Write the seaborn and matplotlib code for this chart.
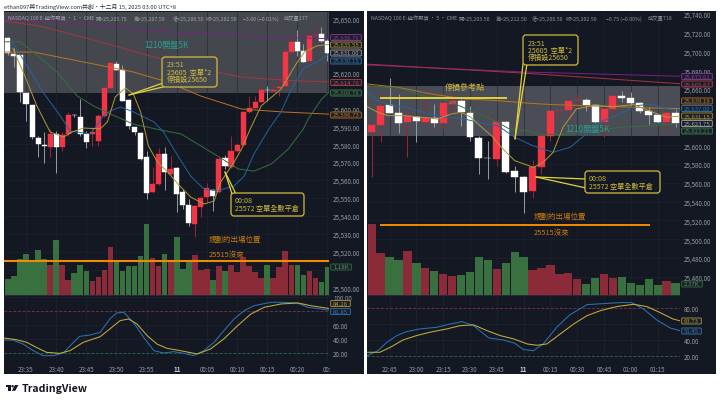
import matplotlib
matplotlib.use("Agg")
import matplotlib.pyplot as plt
from matplotlib.patches import FancyBboxPatch, Rectangle, Polygon, Circle
import numpy as np
import pandas as pd
import seaborn as sns

sns.set_theme(style="dark")
plt.rcParams['font.family'] = ['Noto Sans CJK TC', 'DejaVu Sans']
plt.rcParams['axes.unicode_minus'] = False

# ---------- LEFT CHART (1 min) ----------
L_OPEN = [25639,25630.2,25629.7,25608.5,25601.8,25583.4,25579.3,25578.4,25585.7,25578.4,25585.7,25596.3,25595.1,25585.7,25585.7,25581.8,25595.7,25611.3,25624.7,25621.3,25604.6,25589.6,25586.2,25572.9,25553.4,25557.8,25574.5,25563.4,25566.7,25553.4,25546.2,25535.5,25545,25550.5,25554.5,25553.4,25572.3,25567.3,25576.2,25579.5,25598,25600.2,25603.5,25610.4,25609.6,25611,25612.4,25631.3,25637,25632,25626.3,25640.6,25641.4,25637.5]
L_CLOSE = [25631,25629.1,25609,25602.4,25584,25580,25579,25585.7,25578.4,25585.1,25596.3,25596,25585.7,25581.2,25586.8,25595.7,25611.3,25625.2,25621.3,25604,25590,25586.8,25572,25552.8,25557.8,25574.5,25564.5,25566.2,25552.2,25546.2,25536,25545.6,25550,25555.6,25551.2,25571.7,25567.8,25576.2,25579.5,25598,25600.2,25603.5,25610.2,25610,25610,25611.8,25631.3,25637,25632,25625.8,25640.3,25641,25637.5,25631]
L_HIGH = [25639.7,25633.6,25629.7,25608.5,25601.8,25584.5,25586.8,25588.5,25587.3,25586.8,25598,25597,25605,25587.3,25589.6,25596.8,25612,25626.3,25626.3,25624,25605,25589.6,25587,25576.2,25567.3,25578,25578.4,25573.4,25567.5,25555,25549.5,25546,25551,25558.4,25555,25573,25574,25584.5,25580.6,25598.5,25606.8,25606.8,25614.6,25612.4,25613.5,25618,25634,25639.7,25643.6,25635.8,25642.5,25645.3,25645.3,25638.6]
L_LOW = [25629.7,25623,25603.5,25593,25583,25573,25569.5,25573,25564,25576,25584.5,25595,25584.5,25578,25579,25579,25595,25610.7,25621.3,25604,25588.5,25585,25571,25549.5,25553,25557.5,25554.5,25563,25542.3,25544,25534.4,25528.3,25539.5,25548,25542.8,25553,25566.2,25567,25575.5,25579,25597.5,25600,25603.5,25604,25609,25607,25612,25631,25629,25625.5,25626,25640,25637,25626.3]
L_VOL = [0.68,0.80,1.52,1.73,1.48,1.90,1.52,1.27,2.32,1.27,0.63,0.93,1.27,1.01,0.59,0.76,1.06,2.03,1.43,1.01,1.22,1.22,1.65,3.00,1.56,1.22,1.73,1.43,2.45,1.10,1.48,1.69,1.06,1.10,0.63,1.22,1.01,1.27,0.97,1.60,1.22,0.97,0.72,1.27,0.72,1.18,1.86,1.27,1.27,0.84,1.01,0.72,0.55,1.18]
L_TIME_POS = [3,8,13,18,23,28,33,38,43,48,53]
L_TIME_TXT = ['23:35','23:40','23:45','23:50','23:55','11','00:05','00:10','00:15','00:20','00:']
L_PRICE_TICKS = [25650,25620,25600,25590,25580,25570,25560,25550,25540,25530,25520,25500]
L_GRID_PRICES = [25650,25640,25630,25620,25610,25600,25590,25580,25570,25560,25550,25540,25530,25520,25510,25500]
L_STOCH_TICKS = [20,40,60,100]

L_YEL_X = [0.8,2.8,4.8,7,9.2,10.7,12.5,15.3,16.5,17.8,19.5,20.8,22,23.3,24.8,26.5,28.2,30.3,32.5,34.2,35.3,37.5,38.7,40.2,42,43.3,45.3,46.5,47.8,49.2,51.2,53.2]
L_YEL_Y = [25633.6,25618,25601.3,25586.8,25584,25586.8,25589,25588.5,25592.4,25606.3,25611.3,25608,25598,25579,25570,25564.5,25557.8,25550.6,25546.7,25548.3,25559,25570,25577,25588.5,25601.3,25605,25610.7,25617.4,25624.7,25631.3,25634.7,25635.55]
L_BLU_X = [0.7,2.8,5.8,8.7,10.3,13.7,15.8,17,18.7,20.8,24.2,25.8,28.2,30.3,32.5,34.8,37.5,39.2,40.8,43.3,45.3,47,49,51.5,53.2]
L_BLU_Y = [25637,25625.8,25609,25595.7,25587.3,25585.7,25595.7,25598.5,25600.7,25598,25592.4,25586.8,25573.4,25562.3,25555,25554,25556.7,25562.3,25574.5,25588.5,25598,25610.7,25622,25626.3,25630.15]
L_GRN_X = [-0.6,2,4.2,8.2,11.5,14.2,17,20.8,25.3,28.7,32,35.3,38.2,40.8,43.7,46.5,49,49.8,52,53.2]
L_GRN_Y = [25637,25637,25631.3,25620,25606.8,25601.3,25596.8,25591.2,25587.9,25585.7,25579,25572.3,25566.2,25565,25569,25577.3,25588.5,25594,25605,25608.78]
L_RED_X = [-0.6,5.3,15.3,23.7,32,38.7,43,48,53.2]
L_RED_Y = [25648.6,25645.8,25637,25629,25622,25617.4,25616.3,25615.2,25614.7]
L_PUR_X = [-0.6,8.2,18.2,26.5,43,53.2]
L_PUR_Y = [25649.7,25648,25645.3,25642.5,25639.7,25638.76]
L_ORA_X = [-0.6,4.2,12.5,20.8,26.5,32,38.7,45.3,53.2]
L_ORA_Y = [25631.3,25631.3,25625.8,25620.2,25614.6,25606.8,25599.6,25598,25596.73]

L_KB_X = [-0.6,0.8,2.5,4.2,5.8,7.5,9.2,10.6,11.9,13.6,15.3,16.9,18,19.2,20.8,22.5,24.2,25.8,27.5,29.2,30.8,32.5,34.2,35.8,37.5,39.2,40.8,43.6,45.8,48,49.7,51.9,53.2]
L_KB_Y = [38.7,38.7,33,23.4,16.2,16.2,20,33,44,45.9,49.8,69,77.6,78.6,64.2,42.6,23.4,20,21.9,19.5,16.2,23.4,35.4,52,69,81,88,93,93,92,85.8,83.4,81.85]
L_KY_X = [-0.6,1.4,3.1,4.7,6.4,8.6,10.3,12.5,15.3,16.9,18.6,20,21.4,23.1,24.7,26.4,28.6,31.4,33.6,35.8,38.1,40.3,42.5,45.3,48.1,50.3,53.2]
L_KY_Y = [41.6,39.2,35.4,28.2,21,19.5,23.4,35.4,43.5,54.6,66.6,69,61.8,45,33,26.7,23.4,18.6,25.8,40.2,59.4,76.2,85.8,90.6,92,88,84.26]

# ---------- RIGHT CHART (5 min) ----------
R_OPEN = [25614.6,25622,25642.7,25634.8,25624.5,25630.2,25625.2,25628.8,25624.2,25644.4,25646.9,25634.8,25607.8,25586.4,25585.5,25624.5,25572.6,25566.6,25551,25576.6,25610.3,25637.4,25637.3,25647.8,25648.3,25643.4,25624.5,25638.8,25652.3,25650.1,25645.1,25636.3,25632.7,25625.2,25634.1]
R_CLOSE = [25621.3,25642,25634.5,25624.2,25630.9,25625.6,25629.5,25624.2,25644.8,25646.9,25635.6,25609.3,25586.2,25586.1,25625.2,25572,25566.3,25550,25576.6,25610.3,25637,25637.8,25646.9,25648.3,25643.4,25624.9,25638.8,25652.3,25650.1,25645.1,25637,25632.7,25624.9,25634.5,25623.75]
R_HIGH = [25624.5,25656.5,25671.8,25654.7,25638.8,25631.6,25651.2,25644,25654.7,25656.5,25649.4,25641.6,25610.3,25605,25627,25626,25577.6,25567,25584.4,25612,25638.8,25641.2,25650.5,25654.7,25650.1,25644,25640,25653,25657.6,25656.5,25645.9,25640.5,25633.4,25635.2,25639.8]
R_LOW = [25566.6,25603.2,25634,25612.8,25587.2,25603.2,25621,25620,25617.4,25629.9,25621,25604.3,25569.5,25564.1,25577.6,25571,25550,25527.9,25543.5,25569.5,25604.3,25625.6,25625.6,25642.3,25637,25623.5,25609.3,25632.4,25645.9,25641.6,25634.1,25622.8,25623.5,25615.7,25620]
R_VOL = [14.0,8.3,7.5,6.9,8.7,6.3,5.3,4.7,4.1,3.75,3.95,4.5,7.5,6.9,5.1,6.3,8.5,7.5,4.9,5.3,5.9,4.1,4.3,3.2,2.2,3.4,4.1,3.4,3.6,2.4,2.0,3.2,2.0,2.8,2.37]
R_TIME_POS = [2,5,8,11,14,17,20,23,26,29,32]
R_TIME_TXT = ['22:45','23:00','23:15','23:30','23:45','11','00:15','00:30','00:45','01:00','01:15']
R_PRICE_TICKS = [25740,25720,25700,25680,25660,25600,25580,25560,25540,25520,25500,25480,25460]
R_GRID_PRICES = [25740,25720,25700,25680,25660,25640,25620,25600,25580,25560,25540,25520,25500,25480,25460]
R_STOCH_TICKS = [20,40,80]

R_PUR_X = [-0.5,17,34.5]
R_PUR_Y = [25685.6,25678.2,25673.61]
R_RED_X = [-0.5,17,34.5]
R_RED_Y = [25686.5,25677,25665.67]
R_ORA_X = [-0.5,2.95,6.7,10.4,14.1,17.7,20.3,24,27.8,31.5,34.5]
R_ORA_Y = [25665.4,25661.8,25654.7,25649.4,25647.6,25644.8,25643.4,25642.3,25641.2,25639.8,25639.18]
R_GRN_X = [-0.5,2.95,5.7,8.5,11.5,13.4,15.3,17.7,18.8,21.4,24,27.8,31.5,34.5]
R_GRN_Y = [25663.6,25661.1,25653,25647.6,25635.2,25628.1,25618,25615,25612,25611.4,25613.9,25619.2,25621,25623.21]
R_BLU_X = [-0.5,0.7,2.2,4,6.3,8.2,10.4,12.3,14.1,16,18,20.3,22.2,24,25.9,27.8,29.6,31.5,33,34.5]
R_BLU_Y = [25656.5,25647.6,25642.3,25640.5,25633.4,25629.9,25628.1,25623.5,25621,25608.6,25599.7,25592.6,25597.9,25612,25626.3,25633.4,25642.3,25644,25638.8,25637]
R_YEL_X = [-0.5,0.7,1.8,3.7,5.6,7.4,8.9,10,11.1,12.1,13.4,14.5,16,18.1,19.2,20.3,21.4,22.9,24.8,27,29.3,31.5,33,34.5]
R_YEL_Y = [25641.2,25635.2,25631.6,25631.6,25629.9,25628.1,25633.4,25635.2,25629.9,25621,25610.3,25597.9,25583.7,25576.6,25581.9,25592.6,25619.2,25638.8,25642.3,25641.2,25643.4,25635.2,25629.9,25631.15]

R_KB_X = [-0.5,0.6,1.7,2.8,3.9,5.4,7.3,8.8,10.1,11.4,13.1,14.7,16,17,18.1,19.2,20.7,22.2,24.1,25.9,27.8,29.1,30.4,31.9,33.4,34.7]
R_KB_Y = [20.8,26.3,37.5,45.8,50.8,54.2,56.3,60.4,63.3,58.3,42.9,40.4,36.3,28.3,27.1,35.4,56.3,72.1,84.6,85.8,87.1,87.1,79.2,65.4,55.4,51.45]
R_KY_X = [-0.5,0.9,2.1,3.5,5,6.5,8.4,9.9,11.4,12.9,14.4,15.9,17.4,18.5,19.6,21.1,22.6,24.1,25.6,27.4,29.3,30.8,32.2,33.7,34.7]
R_KY_Y = [25,25,31.3,40.4,45.8,50,54.2,58.3,59.2,52.1,45.8,41.7,35.4,33.8,35.4,47.9,60.4,70.8,77.1,82.1,85,82.1,75,66.7,63.73]

STOCH_GRID = [20,40,60,80,100]
EXIT_LEVEL = 25515
STOP_LEVEL = 25650

# ---------- colours ----------
BG = '#141823'; GRID = '#1f2431'; BAND_L = '#45474f'; BAND_R = '#4b4d56'
UP = '#f23645'; DOWN = '#ffffff'
UPW = '#9c2434'; DOWNW = '#9a9ca3'
VUP = '#8b2b3a'; VDN = '#39703f'
C_YEL = '#b09a38'; C_BLU = '#24649c'; C_GRN = '#35703f'; C_RED = '#a8343f'
C_PUR = '#7a2185'; C_ORA = '#b9751f'
TICK = '#959aa4'; GOLD = '#cfbb3c'; TAIL = '#e2d23e'
EXIT = '#f08c00'; EXIT_TXT = '#c97c12'; TEAL = '#2a9d8c'

W, H = 720, 402
fig = plt.figure(figsize=(W/100, H/100), dpi=100, facecolor='white')

def rect(x0, y0, x1, y1):
    return [x0/W, 1-y1/H, (x1-x0)/W, (y1-y0)/H]

axbg = fig.add_axes([0, 0, 1, 1], zorder=0)
axbg.set_xlim(0, W); axbg.set_ylim(H, 0); axbg.axis('off')
for x0, x1 in [(4, 364), (367, 716)]:
    axbg.add_patch(Rectangle((x0, 12), x1-x0, 363, fc=BG, ec='none'))

def line(ax, xs, ys, color, lw=0.7, z=4):
    sns.lineplot(x=xs, y=ys, ax=ax, color=color, linewidth=lw, estimator=None,
                 errorbar=None, sort=False, zorder=z)

def style(ax):
    ax.set_facecolor('none')
    for s in ax.spines.values():
        s.set_visible(False)
    ax.set_xlabel(''); ax.set_ylabel('')

def chart(px, xlim, ylim, opens, highs, lows, closes, vol, vmax, bw,
          ticks, grid_p, tpos, ttxt, band_lo, band_hi, band_c, mas, kb, ky, klim, kticks):
    x0, x1 = px
    idx = np.arange(len(opens))
    o, h, l, c = map(np.array, (opens, highs, lows, closes))
    rising = c > o

    axb = fig.add_axes(rect(x0, 13, x1, 296), zorder=1)
    style(axb)
    axb.set_xlim(*xlim); axb.set_ylim(*ylim)
    axb.axhspan(band_lo, band_hi, fc=band_c, ec='none', zorder=0)
    axb.vlines(tpos, *ylim, color=GRID, lw=0.5, zorder=0.5, alpha=.8)
    axb.hlines([t for t in grid_p if t < band_lo], *xlim, color=GRID, lw=0.5, zorder=0.5, alpha=.8)
    axb.set_xticks([]); axb.set_yticks([])

    axv = fig.add_axes(rect(x0, 13, x1, 296), zorder=2)
    dfv = pd.DataFrame({'i': idx, 'v': vol, 'k': np.where(rising, 'up', 'dn')})
    sns.barplot(data=dfv, x='i', y='v', hue='k', palette={'up': VUP, 'dn': VDN},
                native_scale=True, dodge=False, width=0.93, saturation=1,
                legend=False, ax=axv, edgecolor='none', linewidth=0)
    axv.set_xlim(*xlim); axv.set_ylim(0, vmax)
    style(axv); axv.set_xticks([]); axv.set_yticks([])

    ax = fig.add_axes(rect(x0, 13, x1, 296), zorder=3)
    style(ax)
    ax.set_xlim(*xlim); ax.set_ylim(*ylim)
    ax.vlines(idx[rising], l[rising], h[rising], color=UPW, lw=0.7, zorder=2)
    ax.vlines(idx[~rising], l[~rising], h[~rising], color=DOWNW, lw=0.7, zorder=2)
    ax.bar(idx[rising], (c-o)[rising], bottom=o[rising], width=bw, color=UP,
           edgecolor=UP, linewidth=0.3, zorder=3)
    ax.bar(idx[~rising], (o-c)[~rising], bottom=c[~rising], width=bw, color=DOWN,
           edgecolor=DOWN, linewidth=0.3, zorder=3)
    for xs, ys, col in mas:
        line(ax, xs, ys, col)
    ax.set_xlim(*xlim); ax.set_ylim(*ylim)
    ax.set_xticks([])
    ax.yaxis.tick_right()
    ax.set_yticks(ticks)
    ax.set_yticklabels([f'{t:,.2f}' for t in ticks], color=TICK, fontsize=4.5)
    ax.tick_params(axis='y', length=0, pad=2.9)
    ax.set_xlabel(''); ax.set_ylabel('')

    axk = fig.add_axes(rect(x0, 296, x1, 362), zorder=3)
    style(axk)
    axk.set_xlim(*xlim); axk.set_ylim(*klim)
    axk.vlines(tpos, *klim, color=GRID, lw=0.5, zorder=0.5)
    axk.hlines(STOCH_GRID, *xlim, color=GRID, lw=0.5, zorder=0.5)
    axk.hlines(80, xlim[0], xlim[1], color='#8a3040', lw=0.6, ls=(0, (3, 2.5)), zorder=1)
    axk.hlines(20, xlim[0], xlim[1], color='#2f7040', lw=0.6, ls=(0, (3, 2.5)), zorder=1)
    line(axk, kb[0], kb[1], '#2a72b0', lw=0.75)
    line(axk, ky[0], ky[1], '#c4ad3c', lw=0.75)
    axk.set_xlim(*xlim); axk.set_ylim(*klim)
    axk.yaxis.tick_right()
    axk.set_yticks(kticks)
    axk.set_yticklabels([f'{t:.2f}' for t in kticks], color=TICK, fontsize=4.5)
    axk.tick_params(axis='y', length=0, pad=2.9)
    axk.set_xticks(tpos)
    axk.set_xticklabels(ttxt, color=TICK, fontsize=4.5)
    axk.tick_params(axis='x', length=0, pad=3)
    for lab, s in zip(axk.get_xticklabels(), ttxt):
        if s == '11':
            lab.set_color('#d0d3da'); lab.set_fontweight('bold')
    axk.set_xlabel(''); axk.set_ylabel('')
    axk.spines['top'].set_visible(True)
    axk.spines['top'].set_color('#2a2e39'); axk.spines['top'].set_linewidth(0.6)
    return ax

axL = chart((4, 329), (-0.65, 53.25), (25496, 25653.6),
            L_OPEN, L_HIGH, L_LOW, L_CLOSE, L_VOL, 11.94, 0.84,
            L_PRICE_TICKS, L_GRID_PRICES, L_TIME_POS, L_TIME_TXT, 25608.4, 25653.6, BAND_L,
            [(L_PUR_X, L_PUR_Y, C_PUR), (L_RED_X, L_RED_Y, C_RED), (L_ORA_X, L_ORA_Y, C_ORA),
             (L_GRN_X, L_GRN_Y, C_GRN), (L_BLU_X, L_BLU_Y, C_BLU), (L_YEL_X, L_YEL_Y, C_YEL)],
            (L_KB_X, L_KB_Y), (L_KY_X, L_KY_Y), (8.5, 103.5), L_STOCH_TICKS)

axR = chart((367, 680), (-0.526, 34.5), (25440.5, 25742.1),
            R_OPEN, R_HIGH, R_LOW, R_CLOSE, R_VOL, 55.9, 0.78,
            R_PRICE_TICKS, R_GRID_PRICES, R_TIME_POS, R_TIME_TXT, 25609.6, 25663.2, BAND_R,
            [(R_PUR_X, R_PUR_Y, C_PUR), (R_RED_X, R_RED_Y, C_RED), (R_ORA_X, R_ORA_Y, C_ORA),
             (R_GRN_X, R_GRN_Y, C_GRN), (R_BLU_X, R_BLU_Y, C_BLU), (R_YEL_X, R_YEL_Y, C_YEL)],
            (R_KB_X, R_KB_Y), (R_KY_X, R_KY_Y), (14.1, 96.6), R_STOCH_TICKS)

axL.hlines(EXIT_LEVEL, -0.65, 53.25, color=EXIT, lw=1.5, zorder=5)
axR.hlines(EXIT_LEVEL, 0.93, 31.1, color=EXIT, lw=1.4, zorder=5)
axR.hlines(STOP_LEVEL, 0.93, 15.1, color=TAIL, lw=1.4, zorder=5)

ov = fig.add_axes([0, 0, 1, 1], zorder=20)
ov.set_xlim(0, W); ov.set_ylim(H, 0); ov.axis('off'); ov.patch.set_visible(False)

def T(x, y, s, size=4.0, color=TICK, ha='left', va='center', **kw):
    return ov.text(x, y, s, fontsize=size, color=color, ha=ha, va=va, **kw)

T(4, 6.5, 'ethan097與TradingView.com共創・十二月 15, 2025 03:00 UTC+8', size=4.2, color='#2a2e39')

LEG_C_L = '#a3a5ac'; LEG_C_R = '#8f939d'
for x, s in [(8, 'NASDAQ 100 E-迷你期貨 · 1 · CME'), (96, '開=25,205.75'), (134, '高=25,207.50'),
             (173, '低=25,200.50'), (206, '收=25,202.50'), (243, '−3.00 (−0.01%)'), (284, '成交量177')]:
    T(x, 19, s, size=3.8, color=LEG_C_L)
for x, s in [(371, 'NASDAQ 100 E-迷你期貨 · 5 · CME'), (459, '開=25,203.50'), (496, '高=25,212.50'),
             (532, '低=25,200.50'), (566, '收=25,202.50'), (606, '−0.75 (−0.00%)'), (648, '成交量718')]:
    T(x, 19, s, size=3.8, color=LEG_C_R)

def callout(x0, y0, x1, y1, fill, lines, tx, ys, tails):
    for (a, b, c, d) in tails:
        ov.plot([a, c], [b, d], color=TAIL, lw=0.9, solid_capstyle='round', zorder=3)
    ov.add_patch(FancyBboxPatch((x0+2, y0+2), x1-x0-4, y1-y0-4, boxstyle='round,pad=2,rounding_size=3',
                                fc=fill, ec=GOLD, lw=0.9, zorder=4))
    for s, y in zip(lines, ys):
        T(tx, y, s, size=5.1, color=GOLD, zorder=5)

callout(162, 58, 217, 88, BAND_L, ['23:51', '25605  空單*2', '停損設25650'], 167, [65, 72.5, 80],
        [(129, 96, 163, 84), (129, 96, 167, 87)])
callout(231, 194, 304, 217, BG, ['00:08', '25572 空單全數平倉'], 235, [201.5, 209.5],
        [(225, 173, 232, 195), (225, 173, 236, 195)])
callout(523, 36, 578, 66, BG, ['23:51', '25605  空單*2', '停損設25650'], 528, [44, 51, 58],
        [(515, 140, 523, 65), (515, 140, 527, 65)])
callout(585, 172, 660, 194, BG, ['00:08', '25572 空單全數平倉'], 589, [179.5, 187],
        [(536, 178, 586, 180), (536, 178, 586, 189)])

T(144, 45, '1210開盤5K', size=5.9, color=TEAL)
T(565, 129, '1210開盤5K', size=5.9, color=TEAL)
T(209, 240, '規劃的出場位置', size=5.4, color=EXIT_TXT)
T(209, 255.5, '25515沒來', size=5.4, color=EXIT_TXT)
T(534, 217, '規劃的出場位置', size=5.4, color=EXIT_TXT)
T(534, 233, '25515沒來', size=5.4, color=EXIT_TXT)
T(445, 87, '停損參考點', size=5.8, color=GOLD)

def scale_label(x, y, s, col, width, tc=None):
    ov.add_patch(FancyBboxPatch((x-2, y-2.7), width, 5.4, boxstyle='round,pad=0.3,rounding_size=0.8',
                                fc='#1a1e29', ec=col, lw=0.6, zorder=5))
    T(x, y, s, size=4.3, color=tc or col, zorder=6)

for y, s, c in [(38.5, '25,638.76', '#8a3a95'), (46, '25,635.55', C_YEL), (54, '25,631.00', '#a6a8ae'),
                (62, '25,630.15', '#3178b0'), (83.5, '25,614.70', '#b8424d'), (94, '25,608.78', '#3f8a4c'),
                (116, '25,596.73', C_ORA)]:
    scale_label(333, y, s, c, 30)
scale_label(333, 268, '1.18K', C_GRN, 20, '#4f9a5a')
scale_label(333, 304.5, '84.26', C_YEL, 19)
scale_label(333, 312.5, '81.85', '#3178b0', 19)

for y, s, c in [(77.5, '25,673.61', '#8a3a95'), (85, '25,665.67', '#b8424d'), (102, '25,639.18', C_ORA),
                (109.5, '25,637.00', '#3178b0'), (117, '25,631.15', C_YEL), (124.5, '25,623.75', '#a6a8ae'),
                (132, '25,623.21', '#3f8a4c')]:
    scale_label(684, y, s, c, 30)
scale_label(684, 285, '2.37K', C_GRN, 20, '#4f9a5a')
scale_label(684, 322, '63.73', C_YEL, 19)
scale_label(684, 332, '51.45', '#3178b0', 19)

LOGO = '#131722'
ov.add_patch(Rectangle((5.5, 386), 5.2, 2.0, fc=LOGO, ec='none'))
ov.add_patch(Rectangle((7.8, 386), 2.9, 5.8, fc=LOGO, ec='none'))
ov.add_patch(Circle((12.6, 387.2), 1.2, fc=LOGO, ec='none'))
ov.add_patch(Polygon([(15.0, 386), (18.4, 386), (15.2, 391.8), (11.8, 391.8)], fc=LOGO, ec='none'))
T(22, 388.9, 'TradingView', size=7.6, color=LOGO, fontweight='bold')

fig.savefig('out.png', dpi=100, facecolor='white')
